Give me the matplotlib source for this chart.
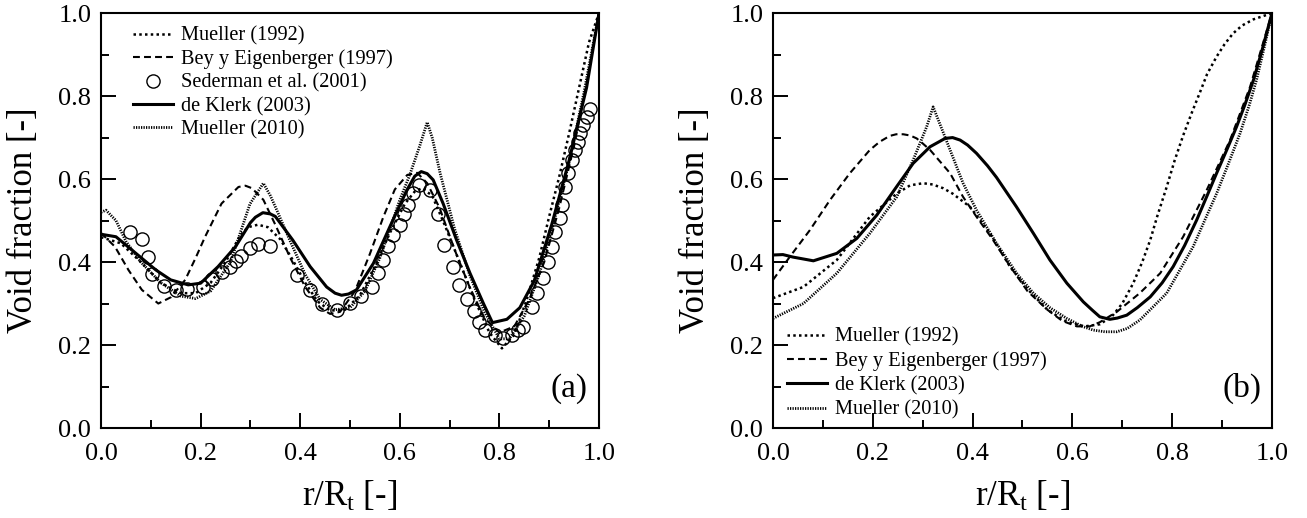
import matplotlib
matplotlib.use("Agg")
import matplotlib.pyplot as plt
from matplotlib.ticker import MultipleLocator

plt.rcParams['font.family'] = ['Liberation Serif', 'DejaVu Serif']
plt.rcParams['mathtext.fontset'] = 'custom'
plt.rcParams['mathtext.rm'] = 'Liberation Serif'
plt.rcParams['mathtext.it'] = 'Liberation Serif:italic'

# ---- panel (a) ----
klerk_a_x = [0.0, 0.03, 0.07, 0.11, 0.14, 0.175, 0.2, 0.235, 0.27, 0.3, 0.31, 0.325, 0.34, 0.35, 0.385,
             0.42, 0.453, 0.47, 0.483, 0.497, 0.513, 0.547, 0.58, 0.614, 0.63, 0.643, 0.655, 0.667,
             0.687, 0.714, 0.741, 0.768, 0.786, 0.815, 0.841, 0.87, 0.905, 0.94, 0.975, 1.0]
klerk_a_y = [0.467, 0.461, 0.421, 0.381, 0.357, 0.345, 0.349, 0.389, 0.437, 0.495, 0.508, 0.519, 0.516,
             0.51, 0.453, 0.389, 0.34, 0.325, 0.32, 0.323, 0.333, 0.397, 0.485, 0.573, 0.607, 0.618,
             0.613, 0.598, 0.541, 0.453, 0.373, 0.30, 0.254, 0.262, 0.29, 0.355, 0.49, 0.645, 0.82, 1.0]

mueller92_a_x = [0.0, 0.04, 0.08, 0.12, 0.16, 0.19, 0.22, 0.25, 0.28, 0.295, 0.315, 0.335, 0.36, 0.385,
                 0.41, 0.435, 0.46, 0.49, 0.52, 0.55, 0.58, 0.61, 0.63, 0.645, 0.665, 0.69, 0.72, 0.75,
                 0.78, 0.805, 0.83, 0.855, 0.88, 0.9, 0.92, 0.94, 0.96, 0.98, 1.0]
mueller92_a_y = [0.46, 0.445, 0.40, 0.35, 0.325, 0.325, 0.35, 0.40, 0.465, 0.484, 0.49, 0.484, 0.455,
                 0.405, 0.35, 0.305, 0.283, 0.285, 0.32, 0.39, 0.47, 0.54, 0.57, 0.578, 0.56, 0.49,
                 0.40, 0.31, 0.23, 0.192, 0.225, 0.31, 0.41, 0.51, 0.605, 0.71, 0.82, 0.93, 1.0]

bey_a_x = [0.0, 0.028, 0.055, 0.082, 0.115, 0.14, 0.169, 0.19, 0.209, 0.242, 0.276, 0.29, 0.303, 0.326,
           0.35, 0.38, 0.41, 0.44, 0.46, 0.48, 0.51, 0.54, 0.567, 0.59, 0.615, 0.635, 0.655, 0.68,
           0.71, 0.74, 0.77, 0.80, 0.83, 0.86, 0.89, 0.92, 0.95, 0.975, 1.0]
bey_a_y = [0.47, 0.437, 0.381, 0.333, 0.30, 0.315, 0.357, 0.41, 0.461, 0.541, 0.581, 0.584, 0.578, 0.55,
           0.49, 0.41, 0.34, 0.29, 0.275, 0.28, 0.33, 0.42, 0.509, 0.575, 0.61, 0.615, 0.59, 0.53,
           0.43, 0.34, 0.265, 0.23, 0.245, 0.31, 0.40, 0.53, 0.68, 0.83, 1.0]

mueller10_a_x = [0.0, 0.01, 0.03, 0.05, 0.08, 0.12, 0.16, 0.19, 0.22, 0.26, 0.299, 0.326, 0.34, 0.353,
                 0.38, 0.41, 0.44, 0.47, 0.50, 0.53, 0.56, 0.60, 0.62, 0.64, 0.655, 0.665, 0.681,
                 0.71, 0.74, 0.77, 0.80, 0.82, 0.85, 0.88, 0.91, 0.94, 0.97, 1.0]
mueller10_a_y = [0.52, 0.525, 0.50, 0.45, 0.40, 0.35, 0.318, 0.312, 0.33, 0.40, 0.54, 0.59, 0.56, 0.525,
                 0.45, 0.37, 0.31, 0.285, 0.29, 0.33, 0.41, 0.55, 0.61, 0.68, 0.737, 0.70, 0.614,
                 0.48, 0.37, 0.28, 0.215, 0.215, 0.27, 0.37, 0.50, 0.64, 0.81, 1.0]

sederman_x = [0.058, 0.082, 0.095, 0.102, 0.127, 0.151, 0.172, 0.205, 0.222, 0.242, 0.259, 0.272, 0.282,
              0.299, 0.316, 0.339, 0.393, 0.42, 0.443, 0.474, 0.50, 0.522, 0.545, 0.557, 0.567, 0.577,
              0.587, 0.60, 0.608, 0.617, 0.627, 0.639, 0.661, 0.677, 0.689, 0.707, 0.718, 0.734, 0.748,
              0.759, 0.772, 0.791, 0.808, 0.825, 0.838, 0.848, 0.865, 0.875, 0.888, 0.898, 0.905, 0.912,
              0.922, 0.925, 0.932, 0.938, 0.945, 0.952, 0.958, 0.962, 0.968, 0.975, 0.982]
sederman_y = [0.472, 0.455, 0.411, 0.372, 0.343, 0.333, 0.336, 0.341, 0.36, 0.375, 0.388, 0.403, 0.415,
              0.435, 0.444, 0.439, 0.369, 0.333, 0.30, 0.285, 0.302, 0.318, 0.339, 0.373, 0.405, 0.439,
              0.465, 0.489, 0.516, 0.537, 0.567, 0.586, 0.573, 0.515, 0.441, 0.389, 0.345, 0.31, 0.282,
              0.256, 0.236, 0.224, 0.216, 0.224, 0.236, 0.244, 0.292, 0.325, 0.361, 0.401, 0.437, 0.473,
              0.505, 0.537, 0.581, 0.614, 0.646, 0.67, 0.69, 0.71, 0.73, 0.75, 0.768]

# ---- panel (b) ----
klerk_b_x = [0.0, 0.02, 0.04, 0.081, 0.128, 0.168, 0.208, 0.248, 0.281, 0.315, 0.345, 0.36, 0.375, 0.39,
             0.408, 0.43, 0.448, 0.488, 0.522, 0.555, 0.589, 0.622, 0.64, 0.655, 0.675, 0.69, 0.709,
             0.73, 0.756, 0.78, 0.802, 0.825, 0.849, 0.87, 0.889, 0.91, 0.929, 0.946, 0.963, 0.98, 1.0]
klerk_b_y = [0.417, 0.418, 0.412, 0.403, 0.421, 0.457, 0.513, 0.582, 0.638, 0.678, 0.698, 0.70, 0.694,
             0.682, 0.662, 0.632, 0.604, 0.533, 0.469, 0.405, 0.349, 0.304, 0.284, 0.268, 0.262, 0.265,
             0.272, 0.29, 0.316, 0.35, 0.389, 0.44, 0.501, 0.56, 0.614, 0.672, 0.726, 0.78, 0.839, 0.91,
             1.0]

mueller92_b_x = [0.0, 0.061, 0.128, 0.194, 0.248, 0.275, 0.301, 0.32, 0.341, 0.36, 0.395, 0.435, 0.475,
                 0.51, 0.55, 0.59, 0.625, 0.655, 0.68, 0.70, 0.722, 0.74, 0.756, 0.77, 0.789, 0.805,
                 0.822, 0.84, 0.856, 0.87, 0.889, 0.905, 0.922, 0.94, 0.963, 1.0]
mueller92_b_y = [0.313, 0.34, 0.405, 0.509, 0.565, 0.585, 0.59, 0.587, 0.578, 0.565, 0.533, 0.469, 0.389,
                 0.335, 0.285, 0.255, 0.245, 0.25, 0.27, 0.30, 0.349, 0.40, 0.453, 0.51, 0.581, 0.645,
                 0.705, 0.762, 0.81, 0.853, 0.895, 0.925, 0.951, 0.97, 0.985, 1.0]

bey_b_x = [0.0, 0.034, 0.074, 0.114, 0.154, 0.194, 0.214, 0.234, 0.247, 0.261, 0.275, 0.288, 0.30, 0.315,
           0.355, 0.381, 0.408, 0.44, 0.475, 0.51, 0.55, 0.58, 0.609, 0.635, 0.655, 0.689, 0.735,
           0.776, 0.822, 0.869, 0.916, 0.956, 1.0]
bey_b_y = [0.357, 0.413, 0.477, 0.549, 0.614, 0.67, 0.69, 0.704, 0.708, 0.708, 0.705, 0.698, 0.686, 0.67,
           0.614, 0.557, 0.509, 0.455, 0.39, 0.33, 0.285, 0.258, 0.245, 0.245, 0.255, 0.28, 0.325,
           0.373, 0.461, 0.573, 0.694, 0.822, 1.0]

mueller10_b_x = [0.0, 0.061, 0.128, 0.194, 0.248, 0.281, 0.308, 0.321, 0.355, 0.381, 0.408, 0.448, 0.49,
                 0.522, 0.555, 0.589, 0.62, 0.642, 0.665, 0.689, 0.71, 0.735, 0.76, 0.789, 0.815, 0.842,
                 0.865, 0.889, 0.912, 0.936, 0.955, 0.969, 0.985, 1.0]
mueller10_b_y = [0.264, 0.30, 0.373, 0.469, 0.557, 0.646, 0.726, 0.774, 0.67, 0.59, 0.525, 0.445, 0.37,
                 0.325, 0.29, 0.264, 0.245, 0.236, 0.232, 0.232, 0.24, 0.26, 0.29, 0.325, 0.38, 0.437,
                 0.50, 0.565, 0.635, 0.71, 0.78, 0.839, 0.92, 1.0]

# line styles
st_m92 = dict(color='black', lw=1.8, linestyle=(0, (1, 1.3)))
st_bey = dict(color='black', lw=1.5, linestyle=(0, (3.3, 2.0)))
st_klerk = dict(color='black', lw=2.2, linestyle='-')
st_m10 = dict(color='black', lw=2.0, linestyle=(0, (0.45, 0.45)))


def style_axes(ax, tag):
    ax.set_xlim(0, 1)
    ax.set_ylim(0, 1)
    ax.xaxis.set_major_locator(MultipleLocator(0.2))
    ax.xaxis.set_minor_locator(MultipleLocator(0.1))
    ax.yaxis.set_major_locator(MultipleLocator(0.2))
    ax.yaxis.set_minor_locator(MultipleLocator(0.1))
    ax.xaxis.set_major_formatter(plt.FormatStrFormatter('%.1f'))
    ax.yaxis.set_major_formatter(plt.FormatStrFormatter('%.1f'))
    ax.tick_params(which='both', direction='in', top=False, right=False, labelsize=19, width=1.4)
    ax.tick_params(which='major', length=11)
    ax.tick_params(which='minor', length=6)
    ax.tick_params(axis='x', pad=11)
    ax.tick_params(axis='y', pad=7)
    for sp in ax.spines.values():
        sp.set_linewidth(1.5)
    ax.set_xlabel(r'r/R$_\mathrm{t}$ [-]', fontsize=25)
    ax.set_ylabel('Void fraction [-]', fontsize=25)
    ax.xaxis.set_label_coords(0.5, -0.125)
    ax.yaxis.set_label_coords(-0.123, 0.5)
    ax.text(0.94, 0.095, tag, transform=ax.transAxes, fontsize=24, ha='center', va='center')


fig = plt.figure(figsize=(13.07, 5.18), dpi=100)
ax1 = fig.add_axes([0.0773, 0.1737, 0.381, 0.801])
ax2 = fig.add_axes([0.5914, 0.1737, 0.3818, 0.801])

ax1.plot(mueller92_a_x, mueller92_a_y, label='Mueller (1992)', **st_m92)
ax1.plot(bey_a_x, bey_a_y, label='Bey y Eigenberger (1997)', **st_bey)
ax1.plot(sederman_x, sederman_y, linestyle='none', marker='o', ms=9.5, mfc='none', mec='black',
         mew=1.0, label='Sederman et al. (2001)')
ax1.plot(klerk_a_x, klerk_a_y, label='de Klerk (2003)', **st_klerk)
ax1.plot(mueller10_a_x, mueller10_a_y, label='Mueller (2010)', **st_m10)
style_axes(ax1, '(a)')
ax1.legend(loc='upper left', bbox_to_anchor=(0.064, 0.968), frameon=False, fontsize=14.7,
           handlelength=1.95, handletextpad=0.4, labelspacing=0.2, borderpad=0, borderaxespad=0)

ax2.plot(mueller92_b_x, mueller92_b_y, label='Mueller (1992)', **st_m92)
ax2.plot(bey_b_x, bey_b_y, label='Bey y Eigenberger (1997)', **st_bey)
ax2.plot(klerk_b_x, klerk_b_y, label='de Klerk (2003)', **st_klerk)
ax2.plot(mueller10_b_x, mueller10_b_y, label='Mueller (2010)', **st_m10)
style_axes(ax2, '(b)')
ax2.legend(loc='lower left', bbox_to_anchor=(0.028, 0.02), frameon=False, fontsize=14.7,
           handlelength=1.95, handletextpad=0.4, labelspacing=0.24, borderpad=0, borderaxespad=0)

fig.savefig('out.png', dpi=100)
